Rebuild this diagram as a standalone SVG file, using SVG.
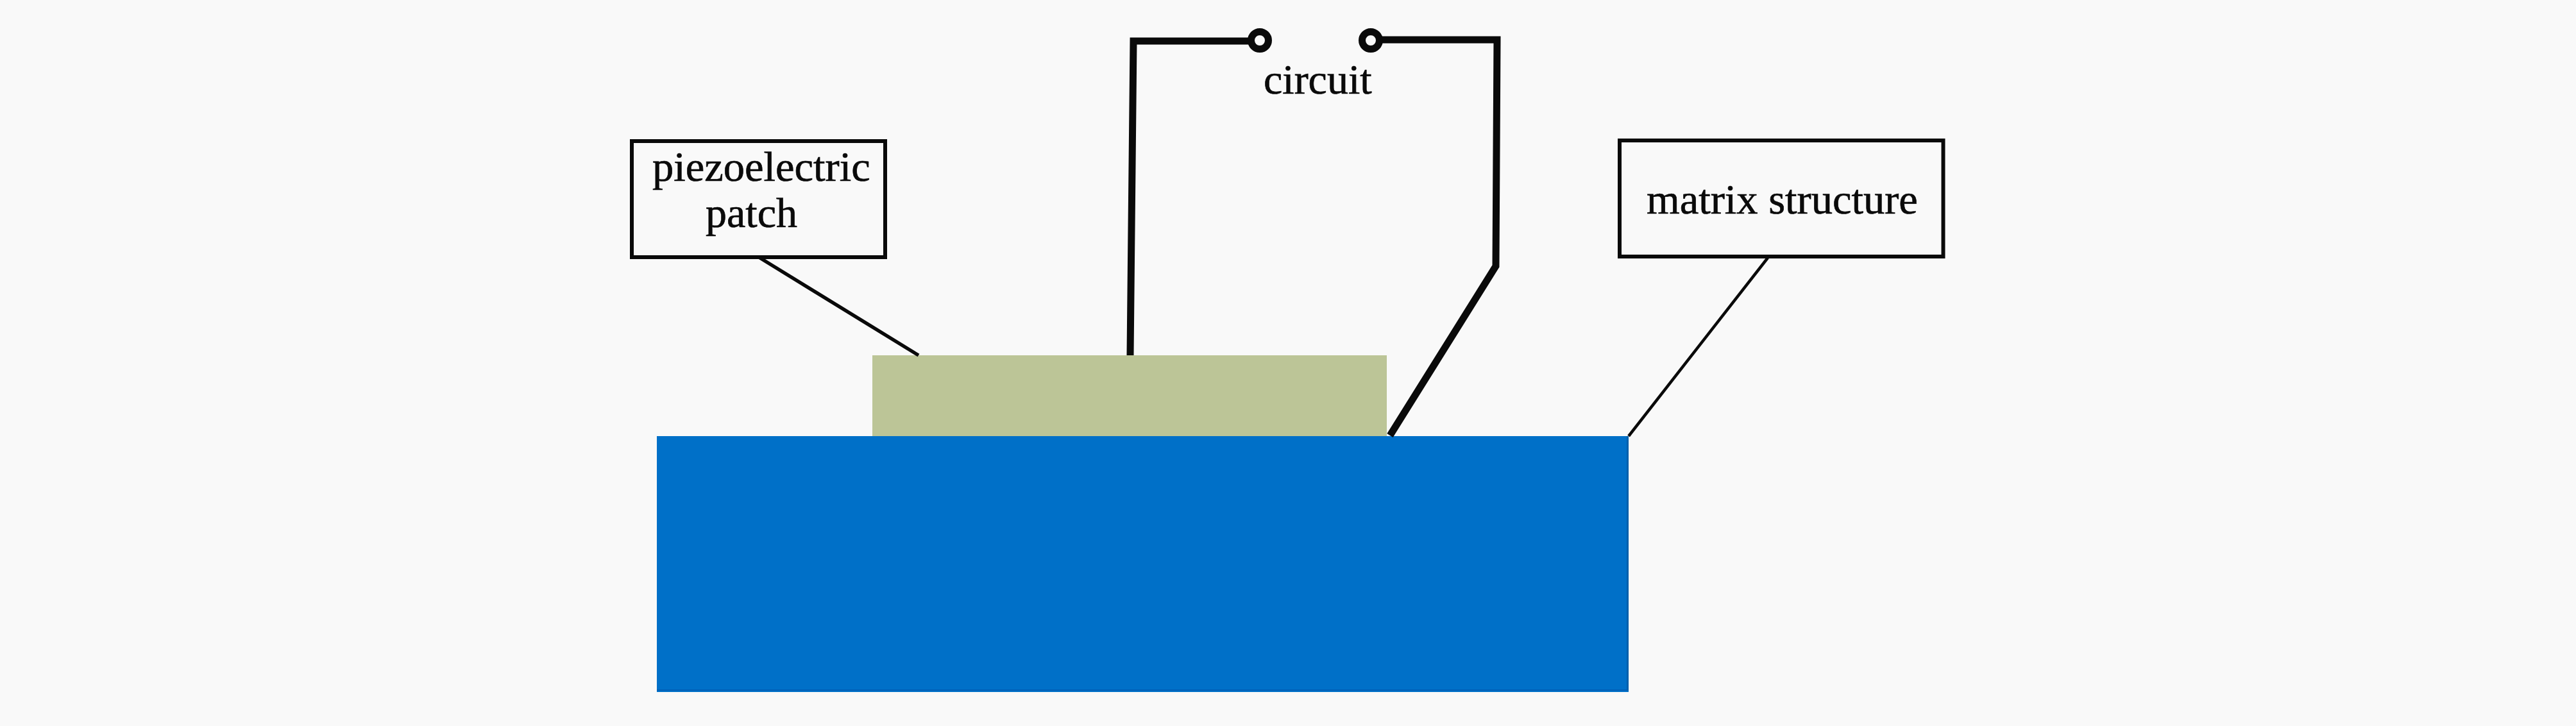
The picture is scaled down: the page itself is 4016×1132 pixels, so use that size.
<svg xmlns="http://www.w3.org/2000/svg" width="4016" height="1132" viewBox="0 0 4016 1132">
<style>
text{font-family:"Liberation Serif","Times New Roman",serif;fill:#0a0a0a;stroke:#0a0a0a;stroke-width:.7}
.box{fill:#f9f9f9;stroke:#0a0a0a;stroke-width:6}
.wire{fill:none;stroke:#0a0a0a;stroke-width:11;stroke-linejoin:miter}
.lead{fill:none;stroke:#0a0a0a;stroke-width:5.500}
.term{fill:#f9f9f9;stroke:#0a0a0a;stroke-width:11}
</style>
<rect width="4016" height="1132" fill="#f9f9f9"/>
<g id="matrix"><rect x="1024" y="680" width="1515" height="399" fill="#0070c8"/><rect x="1024" y="1075" width="1515" height="2" fill="#0060b8"/><rect x="2536" y="680" width="3" height="397" fill="#0060ac"/></g>
<g id="patch"><rect x="1360" y="554" width="802" height="126" fill="#bcc597"/></g>
<g id="connectors">
<path class="lead" d="M1183 401L1432 554"/>
<path class="lead" style="stroke-width:4.500" d="M2756 402L2539 680"/>
<path class="wire" d="M1762 554L1767 64H1964"/>
<path class="wire" d="M2137 62H2334L2332 415L2167 679"/>
</g>
<g id="terminal-left"><circle class="term" cx="1964" cy="63" r="13.500"/></g>
<g id="terminal-right"><circle class="term" cx="2137" cy="63" r="13.500"/></g>
<g id="circuit"><text x="1970" y="146" font-size="66">circuit</text></g>
<g id="piezo-label">
<rect class="box" x="985" y="220" width="395" height="181"/>
<text x="1017" y="282" font-size="66.500">piezoelectric</text>
<text x="1100" y="354" font-size="66">patch</text>
</g>
<g id="matrix-label">
<rect class="box" x="2525" y="219" width="504.500" height="181"/>
<text x="2567" y="333" font-size="66.500">matrix structure</text>
</g>
</svg>
